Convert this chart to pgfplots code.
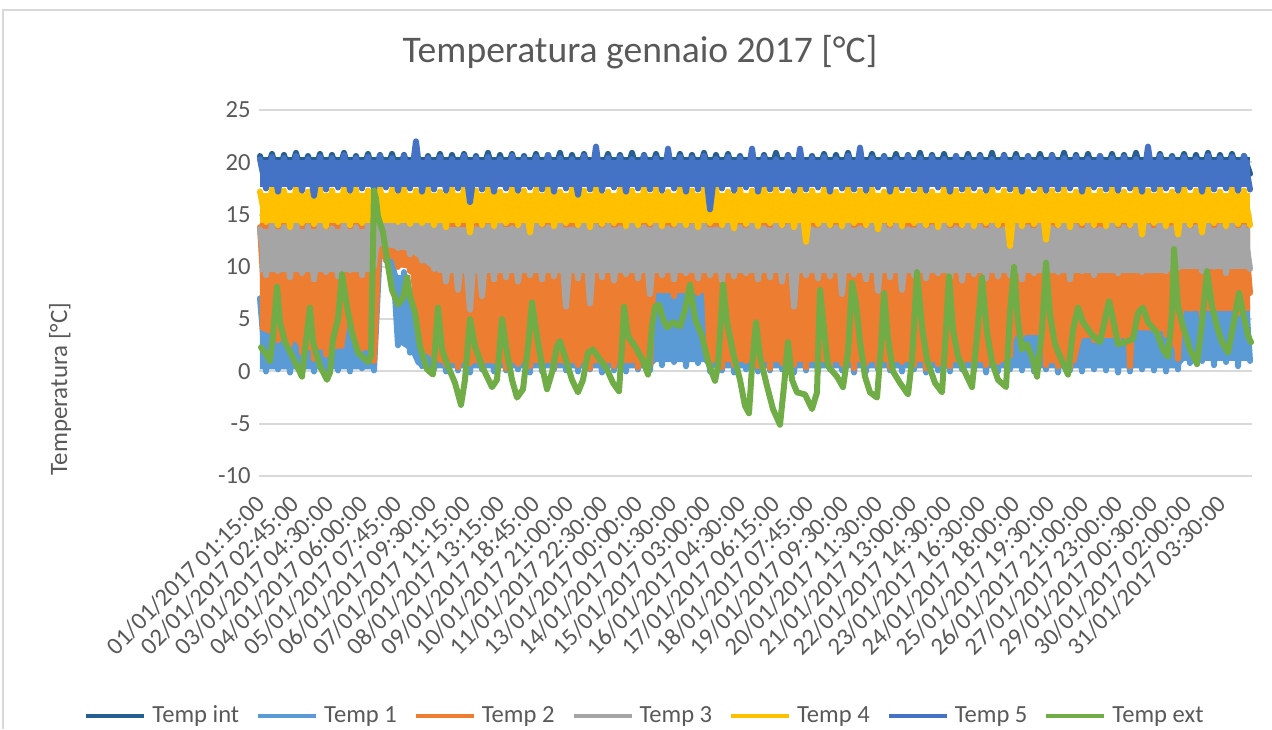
\documentclass[border=0pt]{standalone}
\usepackage{fontspec}
\setmainfont{Carlito}
\usepackage{pgfplots}
\usepackage{pgfplotstable}
\pgfplotsset{compat=1.18}

\definecolor{cint}{HTML}{255E91}
\definecolor{cone}{HTML}{5B9BD5}
\definecolor{ctwo}{HTML}{ED7D31}
\definecolor{cthree}{HTML}{A5A5A5}
\definecolor{cfour}{HTML}{FFC000}
\definecolor{cfive}{HTML}{4472C4}
\definecolor{cext}{HTML}{70AD47}
\definecolor{ctext}{HTML}{595959}
\definecolor{cgrid}{HTML}{D9D9D9}

% x = sample index (15 min steps), one tick label every 103 samples
\pgfplotstableread{
x tint t1 t2 t3 t4 t5
-9 20.6 7.0 13.8 13.6 17.2 20.3
9 18.8 0.0 4.5 9.2 14.3 17.5
27 20.8 5.0 14.1 14.2 17.4 20.5
45 18.6 0.2 3.0 9.6 14.0 17.2
63 20.7 6.0 13.9 13.8 17.3 20.4
81 18.9 -0.1 2.6 9.0 13.8 17.6
99 20.9 5.5 14.3 14.4 17.5 20.6
117 18.7 0.1 1.8 9.4 14.2 17.3
135 20.6 4.0 14.0 13.9 17.2 20.3
153 18.8 0.0 1.2 8.8 14.1 16.8
171 20.8 5.0 14.2 14.1 17.4 20.5
189 18.6 0.2 1.6 9.5 13.9 17.4
207 20.7 6.5 13.7 13.7 17.3 20.4
225 18.9 0.1 3.0 9.1 14.3 17.6
243 20.9 8.0 14.1 14.3 17.5 20.7
261 18.7 0.0 7.5 9.7 14.0 17.3
279 20.6 7.5 14.4 13.8 17.4 20.4
297 18.8 0.3 2.2 9.2 14.2 17.5
315 20.8 5.0 14.0 14.2 17.3 20.5
333 18.7 0.1 1.0 10.0 14.4 17.4
351 20.7 12.0 15.0 16.0 17.5 20.6
369 18.9 10.8 10.6 12.6 14.6 17.6
387 20.8 12.0 14.8 15.8 17.4 20.4
405 18.6 2.5 10.0 11.8 14.3 17.3
423 20.7 9.5 14.6 15.5 17.5 20.6
441 18.8 1.8 9.6 11.2 14.1 17.5
459 20.9 8.0 14.5 15.2 17.3 22.0
477 18.7 0.5 2.0 10.6 14.2 17.2
495 20.6 6.0 14.3 14.6 17.4 20.4
513 18.8 0.2 1.2 9.8 14.0 17.4
531 20.8 5.5 14.1 14.2 17.2 20.5
549 18.6 0.0 0.6 8.6 13.8 17.3
567 20.7 6.0 13.9 13.4 17.4 20.3
585 18.9 0.1 0.4 7.8 14.1 17.5
603 20.8 5.0 14.2 13.0 17.5 20.6
621 18.7 -0.1 0.8 5.9 13.3 16.2
639 20.6 6.5 14.0 13.6 17.3 20.4
657 18.8 0.2 0.5 7.2 14.0 17.4
675 20.9 5.0 14.4 13.9 17.4 20.5
693 18.6 0.0 1.0 8.8 13.9 17.2
711 20.7 6.0 13.8 14.2 17.2 20.3
729 18.8 0.1 0.3 9.0 14.2 17.5
747 20.8 5.5 14.3 13.7 17.5 20.6
765 18.7 0.2 0.7 8.6 14.0 17.3
783 20.6 6.0 14.0 14.0 17.3 20.4
801 18.9 -0.1 0.5 9.2 13.3 17.6
819 20.8 14.2 13.7 14.3 17.4 20.5
837 18.7 0.0 1.1 8.8 14.1 17.4
855 20.7 5.0 14.5 13.8 17.5 20.7
873 18.8 0.2 0.4 9.1 13.9 17.2
891 20.9 6.0 14.1 14.1 17.2 20.4
909 18.6 0.1 0.8 6.2 14.2 17.5
927 20.7 5.5 13.9 13.6 17.4 20.3
945 18.8 0.0 0.6 8.9 14.0 16.9
963 20.8 6.0 14.3 14.2 17.3 20.6
981 18.7 0.2 0.3 6.5 13.8 17.4
999 20.6 5.0 14.0 13.9 17.5 21.5
1017 18.9 -0.1 0.9 9.0 14.1 17.3
1035 20.8 6.5 14.4 14.0 17.2 20.4
1053 18.7 0.1 0.5 8.7 14.2 17.6
1071 20.7 5.5 13.8 13.7 17.4 20.5
1089 18.8 0.0 1.2 9.3 13.9 17.2
1107 20.9 6.0 14.2 14.3 17.3 20.3
1125 18.6 0.2 0.4 8.9 14.0 17.5
1143 20.7 5.0 14.0 13.8 17.5 20.6
1161 18.8 0.1 0.7 7.4 14.2 17.4
1179 20.8 9.0 14.3 14.1 17.4 20.4
1197 18.7 0.6 7.8 9.2 13.9 17.3
1215 20.6 8.5 14.1 13.7 17.2 21.3
1233 18.9 0.9 7.2 8.8 14.1 17.5
1251 20.8 9.5 14.4 14.2 17.5 20.5
1269 18.7 0.5 8.0 9.4 14.0 17.2
1287 20.7 8.0 13.9 13.9 17.3 20.4
1305 18.8 0.8 7.5 8.9 13.8 17.4
1323 20.9 9.0 14.2 14.0 17.4 20.6
1341 18.6 0.0 0.8 9.2 14.2 15.5
1359 20.7 6.0 14.0 13.6 17.5 20.3
1377 18.8 0.1 0.4 8.7 14.0 17.5
1395 20.8 14.0 14.3 14.3 17.2 20.5
1413 18.7 -0.1 0.6 9.1 13.7 17.3
1431 20.6 5.5 13.8 13.8 17.4 20.4
1449 18.9 0.2 1.0 9.4 14.1 17.6
1467 20.8 6.0 14.1 14.1 17.3 21.3
1485 18.7 0.0 0.5 8.8 13.9 17.2
1503 20.7 5.0 14.4 13.7 17.5 20.5
1521 18.8 0.1 0.3 9.0 14.2 17.4
1539 20.9 6.5 14.0 14.2 17.4 20.3
1557 18.6 0.2 0.8 8.6 14.0 17.5
1575 20.7 5.5 14.2 13.9 17.2 20.6
1593 18.8 -0.1 0.6 6.2 13.8 17.3
1611 20.8 6.0 13.9 14.0 17.5 21.3
1629 18.7 0.1 0.4 9.2 12.4 17.4
1647 20.6 5.0 14.3 13.6 17.3 20.4
1665 18.9 0.0 0.9 8.9 14.1 17.6
1683 20.8 6.0 14.0 14.3 17.4 20.5
1701 18.7 0.2 0.5 9.1 14.0 17.2
1719 20.7 5.5 14.4 13.8 17.2 20.3
1737 18.8 0.1 0.7 7.4 13.9 17.5
1755 20.9 6.0 13.8 14.1 17.5 20.6
1773 18.6 -0.1 0.3 9.3 14.2 17.4
1791 20.7 5.0 14.2 13.7 17.3 21.4
1809 18.8 0.0 0.8 8.8 14.0 17.3
1827 20.8 6.5 14.0 14.2 17.4 20.4
1845 18.7 0.2 0.5 7.7 13.6 17.6
1863 20.6 5.5 14.3 13.9 17.2 20.5
1881 18.9 0.1 0.4 9.0 14.1 17.2
1899 20.8 6.0 13.9 14.0 17.5 20.3
1917 18.7 0.0 0.9 7.8 13.9 17.5
1935 20.7 5.0 14.1 13.6 17.3 20.6
1953 18.8 0.2 0.6 9.2 14.2 17.4
1971 20.9 6.0 14.4 14.3 17.4 20.4
1989 18.6 -0.1 0.3 8.9 14.0 17.3
2007 20.7 5.5 14.0 13.8 17.2 20.5
2025 18.8 0.1 0.7 9.4 13.8 17.6
2043 20.8 6.0 14.2 14.1 17.5 20.3
2061 18.7 0.0 0.5 9.0 14.1 17.2
2079 20.6 14.2 13.8 13.7 17.3 20.6
2097 18.9 0.2 0.8 8.7 14.0 17.4
2115 20.8 5.0 14.3 14.2 17.4 20.4
2133 18.7 0.1 0.4 9.3 13.9 17.5
2151 20.7 6.0 14.0 13.9 17.2 20.5
2169 18.8 -0.1 0.6 8.9 14.2 17.3
2187 20.9 5.5 14.4 14.0 17.5 20.3
2205 18.6 0.0 0.9 9.1 14.0 17.6
2223 20.7 6.0 13.9 13.6 17.3 20.6
2241 18.8 0.2 1.5 9.2 12.0 17.4
2259 20.8 7.0 14.2 14.3 17.4 20.4
2277 18.7 0.1 3.5 8.8 13.9 17.2
2295 20.6 6.5 14.0 13.8 17.2 20.5
2313 18.9 0.0 3.8 9.4 14.1 17.5
2331 20.8 7.0 14.3 14.1 17.5 20.3
2349 18.7 0.2 0.6 9.0 12.6 17.3
2367 20.7 5.5 13.8 13.7 17.3 20.6
2385 18.8 -0.1 0.5 9.5 14.0 17.4
2403 20.9 6.0 14.2 14.2 17.4 20.4
2421 18.6 0.1 0.4 8.8 13.8 17.5
2439 20.7 5.0 14.0 13.9 17.2 20.5
2457 18.8 0.0 3.4 9.6 14.2 17.2
2475 20.8 6.5 14.4 14.0 17.5 20.3
2493 18.7 0.2 3.0 9.2 14.0 17.6
2511 20.6 14.2 13.9 13.6 17.3 20.6
2529 18.9 0.1 3.7 9.9 13.9 17.4
2547 20.8 6.0 14.2 14.3 17.4 20.4
2565 18.7 -0.1 2.6 9.4 14.1 17.3
2583 20.7 5.5 14.0 13.8 17.2 20.5
2601 18.8 0.0 0.5 10.0 14.0 17.5
2619 20.9 7.0 14.3 14.1 17.5 20.3
2637 18.6 0.2 4.2 9.5 13.1 17.2
2655 20.7 6.5 13.9 13.9 17.3 21.5
2673 18.8 0.1 4.0 10.1 14.2 17.4
2691 20.8 7.0 14.2 14.4 17.4 20.6
2709 18.7 0.0 3.5 9.6 13.9 17.5
2727 20.6 5.5 14.0 13.7 17.2 20.4
2745 18.9 0.2 1.2 9.9 13.1 17.3
2763 20.8 9.0 14.4 14.2 17.5 20.5
2781 18.7 0.8 6.0 10.2 14.0 17.6
2799 20.7 9.5 14.1 13.8 17.3 20.3
2817 18.8 1.0 5.2 9.6 13.3 17.2
2835 20.9 8.5 14.3 14.3 17.4 20.6
2853 18.6 0.6 7.0 10.0 14.2 17.4
2871 20.7 9.0 14.0 13.9 17.2 20.4
2889 18.8 0.9 6.4 9.4 13.9 17.5
2907 20.8 14.2 14.2 14.1 17.5 20.5
2925 18.7 0.5 5.6 10.1 14.1 17.3
2943 20.6 9.5 14.4 13.8 17.3 20.6
2961 18.9 1.0 7.5 9.8 14.0 17.4
}\bands

\pgfplotstableread{
x y
-6 2.3
6 1.8
21 1.0
30 3.4
42 8.1
51 4.7
66 2.8
87 1.5
117 -0.5
126 2.1
141 6.1
150 2.8
171 0.5
192 -0.8
201 -0.1
210 3.1
225 5.0
237 9.3
252 6.2
267 3.7
285 1.8
315 0.9
324 1.5
333 17.3
339 16.5
345 14.8
360 13.3
372 10.7
387 7.8
405 6.4
420 7.0
432 9.0
441 7.2
456 5.6
471 2.4
492 0.2
510 -0.3
525 6.1
537 2.1
555 0.5
576 -1.1
594 -3.2
606 -0.8
621 5.0
636 2.4
657 0.5
687 -1.5
702 -0.8
717 5.0
732 1.8
747 -0.8
762 -2.5
780 -1.7
795 2.4
807 6.6
822 3.4
837 0.5
852 -1.7
867 -0.1
882 2.4
891 2.9
906 1.4
927 -0.8
945 -2.0
960 -0.8
975 1.8
990 2.1
1005 1.4
1032 0.2
1050 -1.1
1068 -1.9
1077 2.4
1083 6.2
1095 3.4
1116 2.4
1140 1.0
1155 -0.3
1167 4.3
1176 6.2
1188 6.4
1200 5.0
1212 4.2
1230 4.7
1251 4.3
1266 5.9
1281 8.3
1296 5.0
1317 3.4
1335 0.9
1356 -0.9
1365 0.5
1380 8.3
1392 4.7
1410 1.8
1431 -0.8
1446 -3.3
1458 -4.0
1467 0.5
1479 4.7
1491 1.4
1512 -1.4
1530 -3.6
1551 -5.1
1563 -1.4
1575 2.8
1587 -0.8
1602 -2.0
1626 -2.2
1647 -3.6
1662 -2.0
1671 7.8
1683 4.0
1695 0.5
1722 -0.5
1740 -1.5
1755 1.8
1767 8.5
1779 6.5
1791 2.8
1806 -0.5
1821 -2.0
1842 -2.5
1854 2.4
1863 7.5
1875 3.1
1890 0.0
1911 -1.1
1935 -2.2
1947 1.1
1962 9.5
1977 4.3
1992 1.1
2016 -1.1
2037 -2.0
2049 4.0
2058 9.1
2070 4.0
2085 1.4
2112 -0.5
2127 -1.5
2142 3.4
2157 9.0
2172 3.7
2187 0.9
2205 -0.8
2229 -1.5
2241 5.6
2253 10.0
2265 4.7
2277 2.1
2292 2.6
2307 1.4
2322 -0.5
2337 4.0
2349 10.4
2361 5.4
2376 2.6
2394 1.2
2415 -0.3
2430 4.0
2445 6.1
2460 4.7
2487 3.5
2511 2.8
2526 5.0
2538 6.7
2550 5.0
2565 2.6
2586 2.8
2610 3.1
2625 5.6
2640 6.1
2655 4.7
2682 3.7
2700 2.1
2715 1.4
2727 5.6
2733 11.7
2745 6.2
2760 4.3
2781 2.1
2802 0.7
2817 4.7
2832 9.6
2847 6.2
2862 4.3
2877 2.8
2895 1.8
2910 4.3
2928 7.5
2940 5.6
2955 3.4
2964 2.8
}\ext

\begin{document}
\begin{tikzpicture}
\path[use as bounding box] (-129.5pt,-126.5pt) rectangle (506.5pt,238pt);
\draw[cgrid, line width=0.8pt] (-128pt,-126.5pt) -- (-128pt,233pt) -- (506.5pt,233pt);
\begin{axis}[
  at={(0pt,0pt)}, anchor=south west,
  scale only axis,
  width=496.5pt, height=183pt,
  xmin=-12, xmax=2967,
  ymin=-10, ymax=25,
  clip=false,
  axis line style={draw=none},
  major tick length=0pt,
  ytick={-10,-5,0,5,10,15,20,25},
  yticklabels={-10,-5,0,5,10,15,20,25},
  ymajorgrids,
  grid style={cgrid, line width=1pt},
  xtick={0,103,206,309,412,515,618,721,824,927,1030,1133,1236,1339,1442,1545,1648,1751,1854,1957,2060,2163,2266,2369,2472,2575,2678,2781,2884},
  xticklabels={
    01/01/2017 01:15:00, 02/01/2017 02:45:00, 03/01/2017 04:30:00,
    04/01/2017 06:00:00, 05/01/2017 07:45:00, 06/01/2017 09:30:00,
    07/01/2017 11:15:00, 08/01/2017 13:15:00, 09/01/2017 18:45:00,
    10/01/2017 21:00:00, 11/01/2017 22:30:00, 13/01/2017 00:00:00,
    14/01/2017 01:30:00, 15/01/2017 03:00:00, 16/01/2017 04:30:00,
    17/01/2017 06:15:00, 18/01/2017 07:45:00, 19/01/2017 09:30:00,
    20/01/2017 11:30:00, 21/01/2017 13:00:00, 22/01/2017 14:30:00,
    23/01/2017 16:30:00, 24/01/2017 18:00:00, 25/01/2017 19:30:00,
    26/01/2017 21:00:00, 27/01/2017 23:00:00, 29/01/2017 00:30:00,
    30/01/2017 02:00:00, 31/01/2017 03:30:00},
  tick label style={font=\fontsize{12.3}{14}\selectfont, text=ctext},
  yticklabel style={inner sep=0pt, xshift=-4pt},
  xticklabel style={inner sep=0pt, yshift=-12pt, xshift=-1pt, rotate=45, anchor=east},
  title={Temperatura gennaio 2017 [°C]},
  title style={at={(axis description cs:0.3837,1.1257)}, anchor=center,
    font=\fontsize{18.8}{22}\selectfont, text=ctext},
  ylabel={Temperatura [°C]},
  ylabel style={at={(axis description cs:-0.2004,0.2377)}, anchor=center,
    font=\fontsize{12.5}{14}\selectfont, text=ctext},
  legend columns=7,
  legend image code/.code={\draw[#1, line width=2pt, line cap=butt] (0pt,0pt) -- (29pt,0pt);},
  legend style={at={(axis description cs:0.3877,-0.6557)}, anchor=center,
    draw=none, fill=none, font=\fontsize{12.3}{14}\selectfont, text=ctext,
    column sep=3pt, /tikz/every even column/.append style={column sep=8.5pt},
    nodes={inner xsep=0pt}},
  every axis plot/.append style={line join=round, line cap=round},
]
% dense 15-minute readings: solid core of each band, then the readings on top
\addplot[fill=cint, draw=none, forget plot] coordinates {
  (-9,18.9) (2961,18.9) (2961,20.5) (-9,20.5)} -- cycle;
\addplot[cint, line width=3pt] table[x=x, y=tint] {\bands};

\addplot[fill=cone, draw=none, forget plot] coordinates {
  (-9,0.2) (333,0.2) (351,10.9) (387,10.9) (405,2.7) (441,2.0) (459,0.7)
  (477,0.3) (1161,0.3) (1179,0.9) (1323,0.9) (1341,0.3) (2745,0.3)
  (2763,1.0) (2961,1.0) (2961,6.5) (2763,6.5) (2745,4.0) (1341,4.0)
  (1323,8.5) (1179,8.5) (1161,4.0) (459,4.0) (441,9.2) (405,9.2)
  (387,11.5) (351,11.5) (333,4.0) (-9,4.0)} -- cycle;
\addplot[cone, line width=3pt] table[x=x, y=t1] {\bands};

\addplot[fill=ctwo, draw=none, forget plot] coordinates {
  (-9,4.0) (27,3.5) (99,2.8) (117,2.0) (243,2.2) (261,6.0) (279,2.2)
  (315,2.0) (333,1.5) (351,10.8) (387,10.8) (405,10.0) (441,9.8) (459,3.0)
  (477,2.0) (513,1.2) (531,0.8) (1161,0.8) (1179,7.5) (1323,7.5) (1341,0.9)
  (2223,0.9) (2259,3.5) (2331,3.5) (2349,0.8) (2439,0.8) (2457,3.2)
  (2583,3.2) (2601,0.8) (2619,4.0) (2709,3.8) (2745,1.4) (2763,5.8)
  (2961,5.8) (2961,14.2) (-9,14.2)} -- cycle;
\addplot[ctwo, line width=3pt] table[x=x, y=t2] {\bands};

\addplot[fill=cthree, draw=none, forget plot] coordinates {
  (-9,9.5) (333,9.5) (351,12.0) (441,11.5) (477,10.5) (531,9.4) (2700,9.4)
  (2745,9.8) (2961,9.8) (2961,13.7) (531,13.8) (477,14.4) (441,15.0)
  (351,15.5) (333,13.6) (-9,13.6)} -- cycle;
\addplot[cthree, line width=3pt] table[x=x, y=t3] {\bands};

\addplot[fill=cfour, draw=none, forget plot] coordinates {
  (-9,14.2) (2961,14.2) (2961,17.1) (-9,17.1)} -- cycle;
\addplot[cfour, line width=3pt] table[x=x, y=t4] {\bands};

\addplot[fill=cfive, draw=none, forget plot] coordinates {
  (-9,17.6) (2961,17.6) (2961,20.2) (-9,20.2)} -- cycle;
\addplot[cfive, line width=3pt] table[x=x, y=t5] {\bands};

\addplot[cext, line width=3pt] table[x=x, y=y] {\ext};
\legend{Temp int, Temp 1, Temp 2, Temp 3, Temp 4, Temp 5, Temp ext}
\end{axis}
\end{tikzpicture}
\end{document}
